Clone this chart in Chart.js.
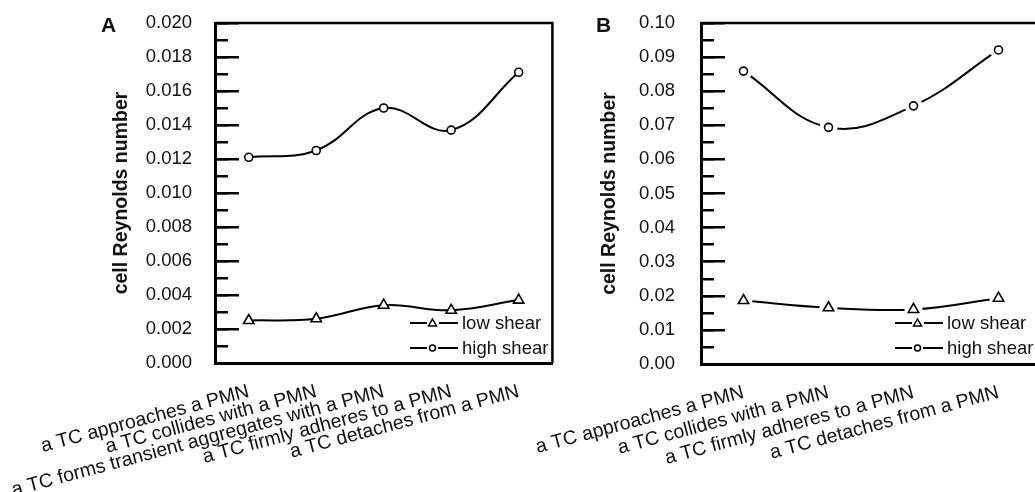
<!DOCTYPE html>
<html>
<head>
<meta charset="utf-8">
<script src="https://cdn.jsdelivr.net/npm/chart.js@4.4.1/dist/chart.umd.min.js"></script>
<style>
  html, body { margin: 0; padding: 0; background: #fff; }
  #wrap { position: relative; width: 1035px; height: 492px; overflow: hidden; background: #fff;
          font-family: "Liberation Sans", Arial, sans-serif; color: #111; }
  canvas { position: absolute; top: 0; }
  .panel { position: absolute; top: 14px; font-weight: bold; font-size: 21px; line-height: 1; }
  .legend { position: absolute; font-size: 18.5px; }
  .legend div { display: flex; align-items: center; height: 25px; white-space: nowrap; }
  .legend svg { margin-right: 4px; }
</style>
</head>
<body>
<div id="wrap">
  <canvas id="chartA" width="560" height="492" style="left:0"></canvas>
  <canvas id="chartB" width="640" height="492" style="left:480px"></canvas>
  <div class="panel" style="left:101px">A</div>
  <div class="panel" style="left:596px">B</div>
  <div class="legend" style="left:410px;top:310px">
    <div><svg width="48" height="14"><line x1="0" y1="7" x2="17" y2="7" stroke="#000" stroke-width="2"/><polygon points="22.5,3 26.5,10 18.5,10" fill="#fff" stroke="#000" stroke-width="1.5"/><line x1="29" y1="7" x2="48" y2="7" stroke="#000" stroke-width="2"/></svg>low shear</div>
    <div><svg width="48" height="14"><line x1="0" y1="7" x2="17" y2="7" stroke="#000" stroke-width="2"/><circle cx="22.5" cy="7" r="3" fill="#fff" stroke="#000" stroke-width="1.5"/><line x1="28" y1="7" x2="48" y2="7" stroke="#000" stroke-width="2"/></svg>high shear</div>
  </div>
  <div class="legend" style="left:895px;top:310px">
    <div><svg width="48" height="14"><line x1="0" y1="7" x2="17" y2="7" stroke="#000" stroke-width="2"/><polygon points="22.5,3 26.5,10 18.5,10" fill="#fff" stroke="#000" stroke-width="1.5"/><line x1="29" y1="7" x2="48" y2="7" stroke="#000" stroke-width="2"/></svg>low shear</div>
    <div><svg width="48" height="14"><line x1="0" y1="7" x2="17" y2="7" stroke="#000" stroke-width="2"/><circle cx="22.5" cy="7" r="3" fill="#fff" stroke="#000" stroke-width="1.5"/><line x1="28" y1="7" x2="48" y2="7" stroke="#000" stroke-width="2"/></svg>high shear</div>
  </div>
</div>
<script>
// panel A
const labelsA = [
  "a TC approaches a PMN",
  "a TC collides with a PMN",
  "a TC forms transient aggregates with a PMN",
  "a TC firmly adheres to a PMN",
  "a TC detaches from a PMN"
];
const lowA = [0.0025, 0.0026, 0.0034, 0.0031, 0.0037];
const highA = [0.0121, 0.0125, 0.0150, 0.0137, 0.0171];

// panel B
const labelsB = [
  "a TC approaches a PMN",
  "a TC collides with a PMN",
  "a TC firmly adheres to a PMN",
  "a TC detaches from a PMN"
];
const lowB = [0.0186, 0.0165, 0.0160, 0.0193];
const highB = [0.0859, 0.0694, 0.0757, 0.0921];

Chart.defaults.font.family = "'Liberation Sans', Arial, sans-serif";
Chart.defaults.color = "#111";

// top and right edges of the plot frame
const boxPlugin = {
  id: "box",
  afterDatasetsDraw(chart) {
    const { ctx, chartArea: a } = chart;
    ctx.save();
    ctx.strokeStyle = "#000";
    ctx.lineWidth = 2.5;
    ctx.beginPath();
    ctx.moveTo(a.left, a.top);
    ctx.lineTo(a.right, a.top);
    ctx.lineTo(a.right, a.bottom);
    ctx.stroke();
    ctx.restore();
  }
};

const makeChart = (id, labels, low, high, o) => {
  const line = (data) => ({
    data, yAxisID: "y", order: 3, borderColor: "#000", borderWidth: 2,
    tension: o.tension, pointRadius: 0, fill: false
  });
  const halo = (data) => ({
    data, yAxisID: "y", order: 2, showLine: false, pointStyle: "circle",
    pointRadius: o.halo, pointBackgroundColor: "#fff", pointBorderWidth: 0
  });
  const mark = (data, style, r) => ({
    data, yAxisID: "y", order: 1, showLine: false, pointStyle: style,
    pointRadius: r, pointBackgroundColor: "#fff", pointBorderColor: "#000", pointBorderWidth: 1.6
  });

  return new Chart(document.getElementById(id), {
    type: "line",
    data: {
      labels,
      datasets: [
        line(low), line(high),
        halo(low), halo(high),
        mark(low, "triangle", 6), mark(high, "circle", 4)
      ]
    },
    options: {
      responsive: false,
      animation: false,
      events: [],
      layout: { padding: o.pad },
      plugins: { legend: { display: false }, tooltip: { enabled: false } },
      scales: {
        x: {
          offset: true,
          grid: { display: false },
          border: { display: true, color: "#000", width: 3 },
          ticks: { font: { size: 19.5 }, minRotation: 15, maxRotation: 15, autoSkip: false, padding: 9 },
          afterFit: (s) => { s.height = o.xHeight; }
        },
        y: {
          position: "left",
          weight: 1,
          min: 0,
          max: o.max,
          grid: { drawOnChartArea: false, tickLength: -24, lineWidth: 2.5, color: "#000" },
          border: { color: "#000", width: 3 },
          ticks: { stepSize: o.major, padding: o.tickPad, font: { size: 18.5 },
                   callback: (v) => v.toFixed(o.digits) },
          title: { display: true, text: "cell Reynolds number", padding: 0,
                   font: { size: 19.5, weight: "bold" } },
          afterFit: (s) => {
            s.width = o.yWidth;
            // the big label padding should not push the plot down
            s.paddingTop = 10;
            s.paddingBottom = 10;
          }
        },
        // minor ticks
        y2: {
          position: "left",
          weight: 0,
          min: 0,
          max: o.max,
          grid: { drawOnChartArea: false, tickLength: -13, lineWidth: 2.5, color: "#000" },
          border: { display: false },
          ticks: { stepSize: o.minor, display: false },
          afterFit: (s) => { s.width = 0; s.paddingTop = 0; s.paddingBottom = 0; }
        }
      }
    },
    plugins: [boxPlugin]
  });
};

makeChart("chartA", labelsA, lowA, highA, {
  pad: { left: 110, top: 23, right: 3, bottom: 0 },
  yWidth: 105, xHeight: 129, tickPad: 47,
  max: 0.02, major: 0.002, minor: 0.001, digits: 3,
  tension: 0.4, halo: 0
});

makeChart("chartB", labelsB, lowB, highB, {
  pad: { left: 118, top: 23, right: 79, bottom: 0 },
  yWidth: 103, xHeight: 128, tickPad: 50,
  max: 0.1, major: 0.01, minor: 0.005, digits: 2,
  tension: 0.4, halo: 9
});
</script>
</body>
</html>
